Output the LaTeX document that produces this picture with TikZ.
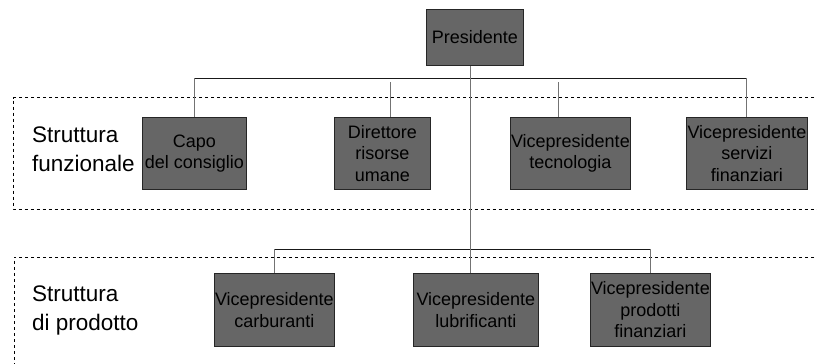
\documentclass[tikz,border=0pt]{standalone}
\usepackage{fontspec}
\setmainfont{Liberation Sans}
\begin{document}
\begin{tikzpicture}[x=1pt,y=-1pt,
  unit/.style={draw=black!85, fill=black!60, line width=0.8pt, inner sep=0pt,
    anchor=north west, align=center,
    font=\fontsize{18pt}{21.5pt}\selectfont},
  grouplabel/.style={anchor=north west, inner sep=0pt, align=left,
    font=\fontsize{22.5pt}{29pt}\selectfont},
  bus/.style={draw=black!90, line width=0.8pt},
  drop/.style={draw=black!55, line width=1pt},
  groupframe/.style={draw=black, line width=0.7pt, dash pattern=on 3.3pt off 2.7pt}]
\useasboundingbox (0,0) rectangle (817,364);

% dashed group frames (open on the right / bottom)
\draw[groupframe] (820,97.7) -- (13,97.7) -- (13,209) -- (820,209);
\draw[groupframe] (820,257) -- (14,257) -- (14,370);

% group labels
\node[grouplabel] (lblfun) at (32,126.6) {Struttura\\funzionale};
\node[grouplabel] (lblprod) at (32,285.6) {Struttura\\di prodotto};

% units
\node[unit, minimum width=97pt, minimum height=56pt] (pres) at (426,9) {Presidente};
\node[unit, minimum width=104pt, minimum height=72pt] (capo) at (142,117) {Capo\\del consiglio};
\node[unit, minimum width=96pt, minimum height=72pt] (dir) at (334,117) {Direttore\\risorse\\umane};
\node[unit, minimum width=120pt, minimum height=72pt] (tec) at (510,117) {Vicepresidente\\tecnologia};
\node[unit, minimum width=121pt, minimum height=72pt] (serv) at (686,117) {Vicepresidente\\servizi\\finanziari};
\node[unit, minimum width=120pt, minimum height=73pt] (carb) at (214,273) {Vicepresidente\\carburanti};
\node[unit, minimum width=125pt, minimum height=73pt] (lubr) at (413,273) {Vicepresidente\\lubrificanti};
\node[unit, minimum width=120pt, minimum height=73pt] (prod) at (590,273) {Vicepresidente\\prodotti\\finanziari};

% connector reference points
\coordinate (trunk) at (470,0);
\coordinate (busAl) at (194,78);
\coordinate (busAr) at (746,78);
\coordinate (dirtop) at (390,82);
\coordinate (tectop) at (558,82);
\coordinate (busBl) at (274,249);
\coordinate (busBr) at (650,249);

% upper bus
\draw[bus] (busAl) -- (busAr);
\draw[drop] (busAl) -- (capo.north -| busAl);
\draw[drop] (busAr) -- (serv.north -| busAr);
\draw[drop] (dirtop) -- (dir.north -| dirtop);
\draw[drop] (tectop) -- (tec.north -| tectop);

% lower bus
\draw[bus] (busBl) -- (busBr);
\draw[drop] (busBl) -- (carb.north -| busBl);
\draw[drop] (busBr) -- (prod.north -| busBr);

% trunk from the president down to the lower units
\draw[drop] (pres.south -| trunk) -- (lubr.north -| trunk);
\end{tikzpicture}
\end{document}
